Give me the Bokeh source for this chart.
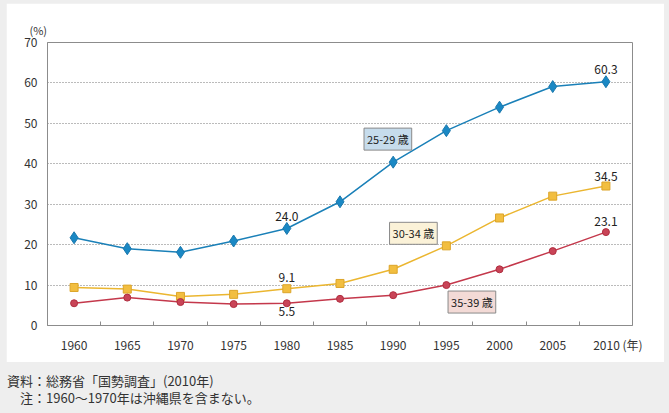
from bokeh.plotting import figure
from bokeh.models import FixedTicker, Label, Div, ColumnDataSource
from bokeh.layouts import column
from bokeh.core.properties import value
from bokeh.embed import file_html
from bokeh.resources import INLINE

years = [1960, 1965, 1970, 1975, 1980, 1985, 1990, 1995, 2000, 2005, 2010]
age_25_29 = [21.7, 19.0, 18.1, 20.9, 24.0, 30.6, 40.4, 48.2, 54.0, 59.1, 60.3]
age_30_34 = [9.4, 9.0, 7.2, 7.7, 9.1, 10.4, 13.9, 19.7, 26.6, 32.0, 34.5]
age_35_39 = [5.5, 6.9, 5.8, 5.3, 5.5, 6.6, 7.5, 10.0, 13.9, 18.4, 23.1]
y_ticks = [0, 10, 20, 30, 40, 50, 60, 70]
series_names = ["25-29 歳", "30-34 歳", "35-39 歳"]

FONT = "Noto Sans CJK JP"
BLUE = "#1a80b8"
YELLOW = "#ebb630"
RED = "#c4384b"

p = figure(width=658, height=359, x_range=(1957.5, 2012.5), y_range=(0, 70),
           output_backend="svg", toolbar_location=None,
           min_border_left=41, min_border_right=32, min_border_top=39, min_border_bottom=37,
           background_fill_color="white", border_fill_color="white")
p.margin = (3, 5, 0, 6)
p.outline_line_color = "#8c8c8c"
p.outline_line_width = 1

p.title.text = "(%)"
p.title.align = "left"
p.title.offset = -18
p.title.text_font = FONT
p.title.text_font_size = "11px"
p.title.text_font_style = "normal"
p.title.text_color = "#333333"
p.title.standoff = 9

p.xgrid.visible = False
p.ygrid.ticker = FixedTicker(ticks=y_ticks[1:-1])
p.ygrid.grid_line_color = "#777777"
p.ygrid.grid_line_dash = "1 2"
p.ygrid.grid_line_width = 1

p.yaxis.ticker = FixedTicker(ticks=y_ticks)
p.yaxis.major_tick_line_color = None
p.yaxis.minor_tick_line_color = None
p.yaxis.axis_line_color = "#8c8c8c"
p.yaxis.major_label_text_font = FONT
p.yaxis.major_label_text_font_size = "12px"
p.yaxis.major_label_text_color = "#333333"
p.yaxis.major_label_standoff = 4

minor = [y + 2.5 for y in years[:-1]]
p.xaxis.ticker = FixedTicker(ticks=years, minor_ticks=minor)
p.xaxis.major_label_overrides = {years[-1]: "\u3000\u3000" + str(years[-1]) + " (年)"}
p.xaxis.major_tick_line_color = None
p.xaxis.minor_tick_line_color = "#8c8c8c"
p.xaxis.minor_tick_in = 4
p.xaxis.minor_tick_out = 0
p.xaxis.axis_line_color = "#8c8c8c"
p.xaxis.major_label_text_font = FONT
p.xaxis.major_label_text_font_size = "12px"
p.xaxis.major_label_text_color = "#333333"
p.xaxis.major_label_standoff = 4

# lines and markers
p.line(years, age_25_29, line_color=BLUE, line_width=1.5)
p.scatter(years, age_25_29, marker="diamond", size=12, fill_color="#1a88c4", line_color="#1a78ad")
p.line(years, age_30_34, line_color=YELLOW, line_width=1.5)
p.scatter(years, age_30_34, marker="square", size=8, fill_color="#f2be40", line_color="#dca52a")
p.line(years, age_35_39, line_color=RED, line_width=1.5)
p.scatter(years, age_35_39, marker="circle", size=7, fill_color="#c94457", line_color="#b02e40")

# value labels
lx = [years[-1], years[-1], years[-1], years[4], years[4], years[4]]
ly = [age_25_29[-1], age_30_34[-1], age_35_39[-1], age_25_29[4], age_30_34[4], age_35_39[4]]
loff = [-12, -10, -11, -12, -11, 8]
src = ColumnDataSource(dict(x=lx, y=ly, t=["%.1f" % v for v in ly], off=loff))
p.text(x="x", y="y", text="t", y_offset="off", source=src, text_align="center",
       text_baseline="middle", text_font=value(FONT), text_font_size="12px", text_color="#222222")

# series name boxes
box_specs = [(1989.5, 46.1, "#c6dcec"), (1991.9, 22.8, "#fbf2d8"), (1997.4, 5.8, "#f3dad6")]
for name, (bx, by, fc) in zip(series_names, box_specs):
    p.add_layout(Label(x=bx, y=by, text=name, text_align="center", text_baseline="middle",
                       text_font=FONT, text_font_size="11px", text_color="#222222",
                       background_fill_color=fc, border_line_color="#8a8a8a",
                       padding=3))

footer = Div(text='<div style="line-height:17px;">資料：総務省「国勢調査」(2010年)<br>'
                  '<span style="padding-left:13px;">注：1960～1970年は沖縄県を含まない。</span></div>',
             width=662, height=51, margin=(0, 0, 0, 7),
             styles={"font-family": FONT, "font-size": "13px", "color": "#333333",
                     "padding-top": "10px"})

layout = column(p, footer, spacing=0)
layout.styles = {"background-color": "#eeeeee"}
html = file_html(layout, INLINE)
html = html.replace("<head>", "<head><style>html,body{background:#eeeeee;}</style>", 1)
open("out.html", "w").write(html)
